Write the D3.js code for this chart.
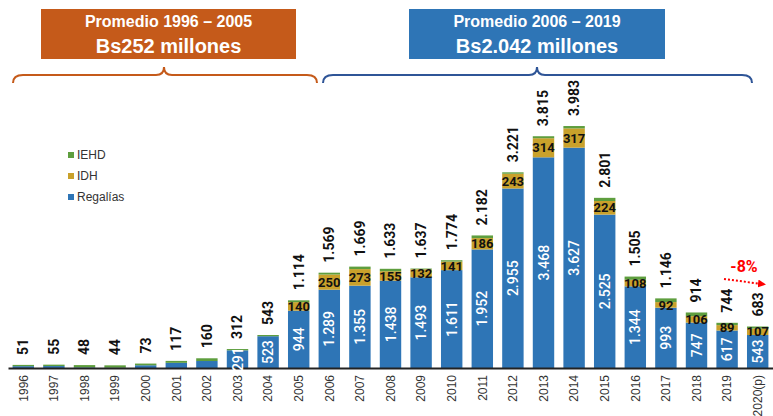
<!DOCTYPE html>
<html lang="es">
<head>
  <meta charset="UTF-8" />
  <title>Regalías, IDH e IEHD</title>
  <script src="https://d3js.org/d3.v7.min.js"></script>
  <style>
    body { margin: 0; background: #fff; }
    svg { display: block; font-family: Roboto, "Liberation Sans", sans-serif; }
  </style>
</head>
<body>
  <div id="chart"></div>

  <script>
    // Datos (millones de Bs)
    const years = ["1996","1997","1998","1999","2000","2001","2002","2003","2004","2005",
                   "2006","2007","2008","2009","2010","2011","2012","2013","2014","2015",
                   "2016","2017","2018","2019","2020(p)"];
    const regalias = [30, 32, 10, 5, 45, 85, 115, 291, 523, 944,
                      1289, 1355, 1438, 1493, 1611, 1952, 2955, 3468, 3627, 2525,
                      1344, 993, 747, 617, 543];
    const idh = [0, 0, 0, 0, 0, 0, 0, 0, 0, 140,
                 250, 273, 155, 132, 141, 186, 243, 314, 317, 224,
                 108, 92, 106, 89, 107];
    const iehd = [21, 23, 38, 39, 28, 32, 45, 21, 20, 30,
                  30, 41, 40, 12, 22, 44, 23, 33, 39, 52,
                  53, 61, 61, 38, 33];
    const totals = [51, 55, 48, 44, 73, 117, 160, 312, 543, 1114,
                    1569, 1669, 1633, 1637, 1774, 2182, 3221, 3815, 3983, 2801,
                    1505, 1146, 914, 744, 683];

    const colors = { Regalias: "#2E75B6", IDH: "#C9A12B", IEHD: "#5E9E3E" };

    const width = 773, height = 416;
    const baseY = 368;

    const svg = d3.select("#chart")
      .append("svg")
      .attr("width", width)
      .attr("height", height);

    const x = d3.scaleBand()
      .domain(years)
      .range([8, 773])
      .paddingInner(0.3)
      .paddingOuter(0.15);

    const y = d3.scaleLinear()
      .domain([0, 4000])
      .range([baseY, baseY - 243]);

    const fmt = v => d3.format(",")(v).replace(/,/g, ".");

    // Pilas
    const rows = years.map((yr, i) => ({
      year: yr, Regalias: regalias[i], IDH: idh[i], IEHD: iehd[i], total: totals[i]
    }));
    const stack = d3.stack().keys(["Regalias", "IDH", "IEHD"]);
    const series = stack(rows);

    svg.append("g")
      .selectAll("g")
      .data(series)
      .enter()
      .append("g")
      .attr("fill", d => colors[d.key])
      .selectAll("rect")
      .data(d => d)
      .enter()
      .append("rect")
      .attr("x", d => x(d.data.year))
      .attr("y", d => y(d[1]))
      .attr("width", x.bandwidth())
      .attr("height", d => Math.max(0, y(d[0]) - y(d[1])));

    // Eje X
    const xAxis = svg.append("g")
      .attr("transform", `translate(0,${baseY})`)
      .call(d3.axisBottom(x).tickSize(0).tickSizeOuter(0));
    xAxis.select(".domain").attr("stroke", "#222").attr("stroke-width", 2);
    xAxis.selectAll("text")
      .attr("transform", "translate(0,7) rotate(-90)")
      .attr("text-anchor", "end")
      .attr("x", 0)
      .attr("y", 0)
      .attr("dy", "0.35em")
      .style("font-size", "12px")
      .style("fill", "#333");

    // Totales
    svg.append("g")
      .selectAll("text")
      .data(rows)
      .enter()
      .append("text")
      .attr("transform", d => `translate(${x(d.year) + x.bandwidth() / 2},${y(d.total) - 10}) rotate(-90)`)
      .attr("dy", "0.35em")
      .attr("text-anchor", "start")
      .style("font-size", "14px")
      .style("font-weight", "bold")
      .style("fill", "#111")
      .text(d => fmt(d.total));

    // Regalías (dentro de la barra)
    svg.append("g")
      .selectAll("text")
      .data(rows.filter((d, i) => i >= 7))
      .enter()
      .append("text")
      .attr("transform", d => `translate(${x(d.year) + x.bandwidth() / 2},${(y(0) + y(d.Regalias)) / 2}) rotate(-90)`)
      .attr("dy", "0.36em")
      .attr("text-anchor", "middle")
      .style("font-size", "14px")
      .style("font-weight", "500")
      .style("fill", "#fff")
      .text(d => fmt(d.Regalias));

    // IDH
    svg.append("g")
      .selectAll("text")
      .data(rows.filter(d => d.IDH > 0))
      .enter()
      .append("text")
      .attr("x", d => x(d.year) + x.bandwidth() / 2)
      .attr("y", d => (y(d.Regalias) + y(d.Regalias + d.IDH)) / 2)
      .attr("dy", "0.36em")
      .attr("text-anchor", "middle")
      .style("font-size", "13px")
      .style("font-weight", "bold")
      .style("fill", "#111")
      .text(d => d.IDH);

    // Leyenda
    const legendItems = [
      { label: "IEHD", color: colors.IEHD },
      { label: "IDH", color: colors.IDH },
      { label: "Regalías", color: colors.Regalias }
    ];
    const legend = svg.append("g").attr("transform", "translate(68,155)");
    legendItems.forEach((d, i) => {
      const g = legend.append("g").attr("transform", `translate(0,${i * 21})`);
      g.append("rect").attr("x", 0).attr("y", -3).attr("width", 6).attr("height", 6).attr("fill", d.color);
      g.append("text")
        .attr("x", 9)
        .attr("dy", "0.35em")
        .style("font-family", "'Liberation Sans', Arial, sans-serif")
        .style("font-size", "12px")
        .style("fill", "#333")
        .text(d.label);
    });

    // Recuadros de promedio
    const banners = [
      { x0: 41, x1: 296, color: "#C55A1A", l1: "Promedio 1996 – 2005", l2: "Bs252 millones",
        b0: 13, b1: 317, tip: 164 },
      { x0: 409, x1: 665, color: "#2E75B6", l1: "Promedio 2006 – 2019", l2: "Bs2.042 millones",
        b0: 323, b1: 752, tip: 537 }
    ];
    const braceColors = ["#C55A1A", "#2F5597"];
    banners.forEach((b, i) => {
      svg.append("rect")
        .attr("x", b.x0).attr("y", 9)
        .attr("width", b.x1 - b.x0).attr("height", 50)
        .attr("fill", b.color);
      const cx = (b.x0 + b.x1) / 2;
      svg.append("text")
        .attr("x", cx).attr("y", 27)
        .attr("text-anchor", "middle")
        .style("font-family", "'Liberation Sans', Arial, sans-serif")
        .style("font-size", "16px").style("font-weight", "bold").style("fill", "#fff")
        .text(b.l1);
      svg.append("text")
        .attr("x", cx).attr("y", 53)
        .attr("text-anchor", "middle")
        .style("font-family", "'Liberation Sans', Arial, sans-serif")
        .style("font-size", "20px").style("font-weight", "bold").style("fill", "#fff")
        .text(b.l2);

      // Llave
      const yTip = 67, yLine = 75, yEnd = 83;
      const p = d3.path();
      p.moveTo(b.b0, yEnd);
      p.quadraticCurveTo(b.b0, yLine, b.b0 + 10, yLine);
      p.lineTo(b.tip - 8, yLine);
      p.quadraticCurveTo(b.tip, yLine, b.tip, yTip);
      p.quadraticCurveTo(b.tip, yLine, b.tip + 8, yLine);
      p.lineTo(b.b1 - 10, yLine);
      p.quadraticCurveTo(b.b1, yLine, b.b1, yEnd);
      svg.append("path")
        .attr("d", p.toString())
        .attr("fill", "none")
        .attr("stroke", braceColors[i])
        .attr("stroke-width", 2);
    });

    // Variación 2020
    svg.append("defs").append("marker")
      .attr("id", "arrow")
      .attr("viewBox", "0 0 10 10")
      .attr("refX", 5).attr("refY", 5)
      .attr("markerWidth", 4).attr("markerHeight", 4)
      .attr("orient", "auto")
      .append("path")
      .attr("d", "M0,0 L10,5 L0,10 z")
      .attr("fill", "#FF0000");

    svg.append("line")
      .attr("x1", 724).attr("y1", 279)
      .attr("x2", 762).attr("y2", 284)
      .attr("stroke", "#FF0000")
      .attr("stroke-width", 2)
      .attr("stroke-dasharray", "2,2")
      .attr("marker-end", "url(#arrow)");

    svg.append("text")
      .attr("x", 744).attr("y", 272)
      .attr("text-anchor", "middle")
      .style("font-size", "16px").style("font-weight", "bold").style("fill", "#FF0000")
      .text("-8%");
  </script>
</body>
</html>
